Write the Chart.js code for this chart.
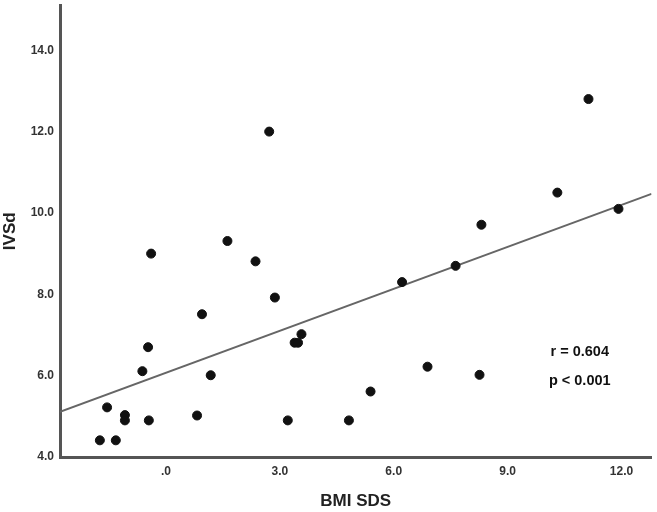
<!DOCTYPE html>
<html>
<head>
<meta charset="utf-8">
<script src="https://cdn.jsdelivr.net/npm/chart.js@4.4.0/dist/chart.umd.min.js"></script>
<style>
  html, body { margin: 0; padding: 0; background: #fff; }
  #wrap { width: 657px; height: 512px; }
</style>
</head>
<body>
<div id="wrap"><canvas id="scatter"></canvas></div>
<script>
// BMI SDS (x) vs IVSd (y)
var bmiSds = [-1.74, -1.32, -1.55, -1.08, -1.08, -0.45, -0.62, -0.47, -0.39, 0.95,
              1.18, 0.82, 1.62, 2.36, 2.72, 2.87, 3.57, 3.39, 3.48, 3.21,
              4.82, 5.39, 6.89, 8.26, 6.22, 7.63, 8.31, 10.31, 11.13, 11.92];
var ivsd = [4.41, 4.41, 5.22, 5.03, 4.90, 4.90, 6.11, 6.70, 9.00, 7.51,
            6.01, 5.02, 9.31, 8.81, 12.00, 7.92, 7.02, 6.81, 6.81, 4.90,
            4.90, 5.61, 6.22, 6.02, 8.30, 8.70, 9.71, 10.50, 12.80, 10.10];

// fit line end points (at the axis limits)
var fitX = [-2.79, 12.79];
var fitY = [5.11, 10.47];

var xTicks = [0, 3, 6, 9, 12];
var xTickLabels = [".0", "3.0", "6.0", "9.0", "12.0"];
var yTicks = [4, 6, 8, 10, 12, 14];
var yTickLabels = ["4.0", "6.0", "8.0", "10.0", "12.0", "14.0"];

var statText = ["r = 0.604", "p < 0.001"];
var statX = 10.9;
var statY = [6.585, 5.88];

var points = [];
for (var i in bmiSds) {
  points.push({x: bmiSds[i], y: ivsd[i]});
}
var fit = [];
for (var j in fitX) {
  fit.push({x: fitX[j], y: fitY[j]});
}

//writes r and p inside the plot
var statsPlugin = {
  id: "stats",
  afterDatasetsDraw: function(chart) {
    var c = chart.ctx;
    c.save();
    c.fillStyle = "#111";
    c.font = "bold 14.5px 'Liberation Sans', Arial, sans-serif";
    c.textAlign = "center";
    c.textBaseline = "middle";
    for (var k in statText) {
      c.fillText(statText[k], chart.scales.x.getPixelForValue(statX),
                 chart.scales.y.getPixelForValue(statY[k]));
    }
    c.restore();
  }
};

var tickFont = { family: "'Liberation Sans', Arial, sans-serif", size: 12, weight: "bold" };
var titleFont = { family: "'Liberation Sans', Arial, sans-serif", size: 17, weight: "bold" };

//no extra room for the end labels
function noPad(scale) {
  scale.paddingTop = 0;
  scale.paddingBottom = 0;
  scale.paddingLeft = 0;
  scale.paddingRight = 0;
}

var ctx = document.getElementById("scatter");
var chart = new Chart(ctx, {
  type: "scatter",
  data: {
    datasets: [
      {
        data: points,
        backgroundColor: "#111",
        borderColor: "#111",
        pointRadius: 4.5,
        pointBorderWidth: 1
      },
      {
        type: "line",
        data: fit,
        borderColor: "#666",
        borderWidth: 2,
        pointRadius: 0,
        fill: false
      }
    ]
  },
  options: {
    responsive: true,
    maintainAspectRatio: false,
    animation: false,
    layout: { padding: { left: 0, right: 5, top: 3, bottom: 0 } },
    plugins: {
      legend: { display: false },
      tooltip: { enabled: false }
    },
    scales: {
      x: {
        type: "linear",
        min: -2.79,
        max: 12.79,
        grid: { display: false, drawTicks: false, tickLength: 0 },
        border: { display: true, color: "#555", width: 3 },
        afterBuildTicks: function(scale) {
          scale.ticks = xTicks.map(function(v) { return {value: v}; });
        },
        afterFit: function(scale) { scale.height = 55; noPad(scale); },
        ticks: {
          padding: 7,
          color: "#333",
          font: tickFont,
          maxRotation: 0,
          callback: function(v) { return xTickLabels[xTicks.indexOf(v)]; }
        },
        title: {
          display: true,
          text: "BMI SDS",
          color: "#222",
          font: titleFont,
          padding: { top: 0, bottom: 0 }
        }
      },
      y: {
        type: "linear",
        min: 4,
        max: 15.1,
        grid: { display: false, drawTicks: false, tickLength: 0 },
        border: { display: true, color: "#555", width: 3 },
        afterBuildTicks: function(scale) {
          scale.ticks = yTicks.map(function(v) { return {value: v}; });
        },
        afterFit: function(scale) { scale.width = 60; noPad(scale); },
        ticks: {
          padding: 6,
          color: "#333",
          font: tickFont,
          callback: function(v) { return yTickLabels[yTicks.indexOf(v)]; }
        },
        title: {
          display: true,
          text: "IVSd",
          color: "#222",
          font: titleFont,
          padding: { top: 0, bottom: 0 }
        }
      }
    }
  },
  plugins: [statsPlugin]
});
</script>
</body>
</html>
